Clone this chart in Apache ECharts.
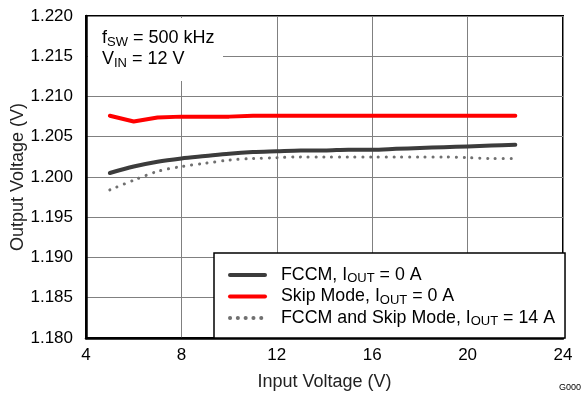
<!DOCTYPE html>
<html>
<head>
<meta charset="utf-8">
<script src="https://cdn.jsdelivr.net/npm/echarts@6/dist/echarts.min.js"></script>
<style>
  html, body { margin: 0; padding: 0; background: #fff; }
  #chart { width: 583px; height: 394px; }
</style>
</head>
<body>
<div id="chart"></div>
<script>
// input voltage (V)
const inputVoltage = [5, 6, 7, 8, 9, 10, 11, 12, 13, 14, 15, 16, 17, 18, 19, 20, 21, 22];
// output voltage (V)
const fccmNoLoad = [1.2005, 1.2013, 1.2019, 1.2023, 1.2026, 1.2029, 1.2031, 1.2032, 1.2033,
    1.2033, 1.2034, 1.2034, 1.2035, 1.2036, 1.2037, 1.2038, 1.2039, 1.2040];
const skipNoLoad = [1.2076, 1.2069, 1.2074, 1.2075, 1.2075, 1.2075, 1.2076, 1.2076, 1.2076,
    1.2076, 1.2076, 1.2076, 1.2076, 1.2076, 1.2076, 1.2076, 1.2076, 1.2076];
const fullLoad = [1.1984, 1.1996, 1.2007, 1.2013, 1.2017, 1.2021, 1.2023, 1.2024, 1.2025,
    1.2025, 1.2025, 1.2025, 1.2025, 1.2025, 1.2025, 1.2024, 1.2023, 1.2023];

const seriesNames = ['FCCM, IOUT = 0 A', 'Skip Mode, IOUT = 0 A', 'FCCM and Skip Mode, IOUT = 14 A'];
const legendLabels = {
    'FCCM, IOUT = 0 A': 'FCCM, I{sub|OUT} = 0 A',
    'Skip Mode, IOUT = 0 A': 'Skip Mode, I{sub|OUT} = 0 A',
    'FCCM and Skip Mode, IOUT = 14 A': 'FCCM and Skip Mode, I{sub|OUT} = 14 A'
};

const FONT = 'Liberation Sans, Arial, sans-serif';
const richSub = {
    sub: { fontSize: 13, fontFamily: FONT, color: '#000', verticalAlign: 'bottom', lineHeight: 14 }
};

function pairs(ys) {
    return inputVoltage.map((x, i) => [x, ys[i]]);
}

const options = {
    animation: false,
    backgroundColor: '#fff',
    textStyle: { fontFamily: FONT },
    grid: {
        left: 86, right: 20, top: 16, bottom: 56,
        outerBoundsMode: 'none',
        containLabel: false,
        show: true, borderColor: '#000', borderWidth: 2
    },
    xAxis: {
        type: 'value',
        min: 4, max: 24, interval: 4,
        name: 'Input Voltage (V)',
        nameLocation: 'middle',
        nameGap: 35,
        nameMoveOverlap: false,
        nameTextStyle: { fontSize: 18, color: '#222', fontFamily: FONT },
        axisLine: { lineStyle: { color: '#000', width: 2.5 } },
        axisTick: { show: false },
        axisLabel: { fontSize: 17, color: '#000', margin: 9, fontFamily: FONT },
        splitLine: { lineStyle: { color: '#808080', width: 1 } }
    },
    yAxis: {
        type: 'value',
        min: 1.18, max: 1.22, interval: 0.005,
        name: 'Output Voltage (V)',
        nameLocation: 'middle',
        nameGap: 59,
        nameMoveOverlap: false,
        nameTextStyle: { fontSize: 18, color: '#222', fontFamily: FONT },
        axisLine: { show: true, lineStyle: { color: '#000', width: 2.5 } },
        axisTick: { show: false },
        axisLabel: {
            fontSize: 17, color: '#000', margin: 13, fontFamily: FONT,
            formatter: v => v.toFixed(3)
        },
        splitLine: { lineStyle: { color: '#808080', width: 1 } }
    },
    legend: {
        orient: 'vertical',
        left: 214,
        top: 253,
        data: seriesNames,
        backgroundColor: '#fff',
        borderColor: '#000',
        borderWidth: 1.5,
        borderRadius: 0,
        padding: [12, 10, 10, 14],
        itemWidth: 35,
        itemHeight: 14,
        itemGap: 1.5,
        itemStyle: { opacity: 0 },
        lineStyle: { width: 4 },
        formatter: name => legendLabels[name],
        textStyle: {
            fontSize: 17.8, color: '#000', fontFamily: FONT, lineHeight: 20,
            padding: [0, 0, 0, 11],
            rich: richSub
        }
    },
    graphic: [
        {
            type: 'rect',
            z: 1,
            shape: { x: 88, y: 18, width: 135, height: 63 },
            style: { fill: '#fff' }
        },
        {
            type: 'text',
            z: 3,
            left: 102,
            top: 28,
            style: {
                text: 'f{sub|SW} = 500 kHz\nV{sub|IN} = 12 V',
                fontSize: 18,
                lineHeight: 21,
                fontFamily: FONT,
                fill: '#000',
                rich: richSub
            }
        },
        {
            type: 'text',
            left: 559,
            top: 383,
            style: { text: 'G000', fontSize: 9, fontFamily: FONT, fill: '#000' }
        }
    ],
    series: [
        {
            name: seriesNames[0],
            type: 'line',
            data: pairs(fccmNoLoad),
            symbol: 'none',
            smooth: 0.3,
            lineStyle: { color: '#3c3c3c', width: 4, cap: 'round' },
            itemStyle: { color: '#3c3c3c' }
        },
        {
            name: seriesNames[1],
            type: 'line',
            data: pairs(skipNoLoad),
            symbol: 'none',
            lineStyle: { color: '#ff0000', width: 4, cap: 'round' },
            itemStyle: { color: '#e8484c' }
        },
        {
            name: seriesNames[2],
            type: 'line',
            data: pairs(fullLoad),
            symbol: 'none',
            smooth: 0.3,
            lineStyle: { color: '#707070', width: 3, type: [0.1, 7.7], cap: 'round' },
            itemStyle: { color: '#707070' }
        }
    ]
};

const chart = echarts.init(document.getElementById('chart'));
chart.setOption(options);
window.onresize = function () {
    chart.resize();
};
</script>
</body>
</html>
